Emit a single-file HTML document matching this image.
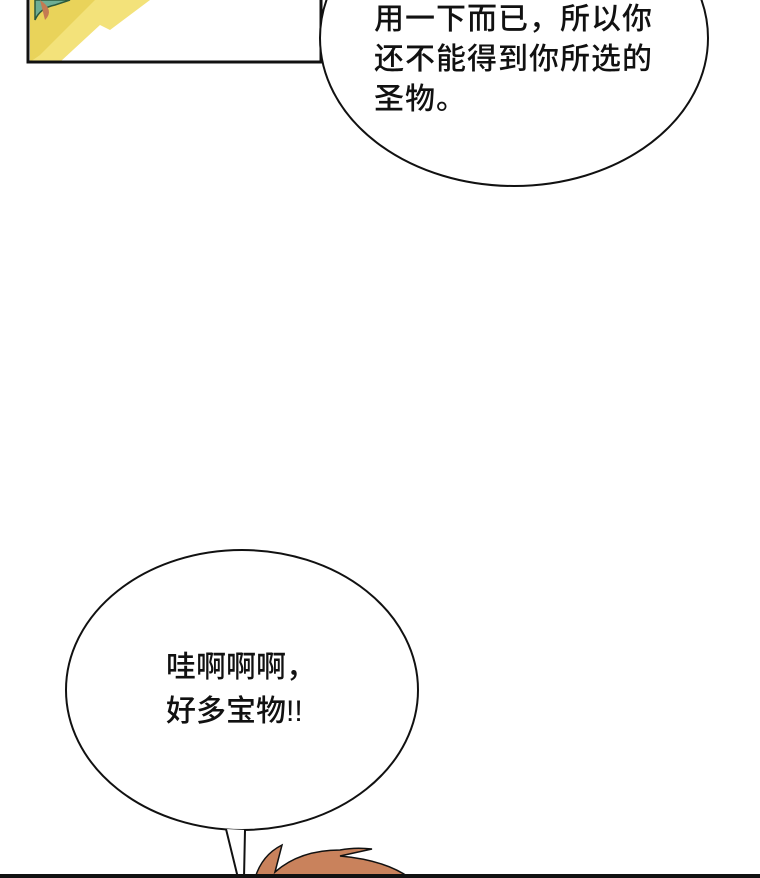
<!DOCTYPE html>
<html><head><meta charset="utf-8"><style>
html,body{margin:0;padding:0;background:#fff;}
body{width:760px;height:878px;position:relative;overflow:hidden;font-family:"Liberation Sans","Noto Sans CJK SC",sans-serif;}
svg{position:absolute;left:0;top:0;}
.t{position:absolute;color:#111;white-space:nowrap;font-weight:500;}
</style></head><body>
<svg width="760" height="878" viewBox="0 0 760 878">
  <polygon points="30,0 150,0 110,30 100,25 60,62 30,62" fill="#f3e27a"/>
  <polygon points="30,0 95,0 75,20 60,35 40,55 30,62" fill="#e9d35a"/>
  <path d="M35,20 Q40,8 55,5 L70,0 L35,0 Z" fill="#6fae94" stroke="#2d5a3c" stroke-width="1.5"/>
  <path d="M40,0 Q55,10 45,20" fill="#c47a52"/>
  <rect x="28" y="-5" width="293" height="67" fill="none" stroke="#111" stroke-width="3"/>
  <ellipse cx="514" cy="38" rx="194" ry="148" fill="#fff" stroke="#111" stroke-width="2"/>
  <ellipse cx="242" cy="690" rx="176" ry="140" fill="#fff" stroke="#111" stroke-width="2"/>
  <path d="M255,878 Q262,855 282,845 L275,872 Q300,850 340,850 Q355,847 372,849 L340,856 Q385,860 410,878 Z" fill="#c9825c" stroke="#111" stroke-width="1.5"/>
  <path d="M226,829 L238,878 L244,878 L245,830" fill="#fff" stroke="#111" stroke-width="2"/>
  <line x1="0" y1="876" x2="760" y2="876" stroke="#111" stroke-width="4"/>
</svg>
<div class="t" style="left:374px;top:0px;font-size:30px;line-height:40px;letter-spacing:1px;">用一下而已，所以你<br>还不能得到你所选的<br>圣物。</div>
<div class="t" style="left:166px;top:646px;font-size:30px;line-height:44px;letter-spacing:0px;">哇啊啊啊，<br>好多宝物!!</div>
</body></html>
